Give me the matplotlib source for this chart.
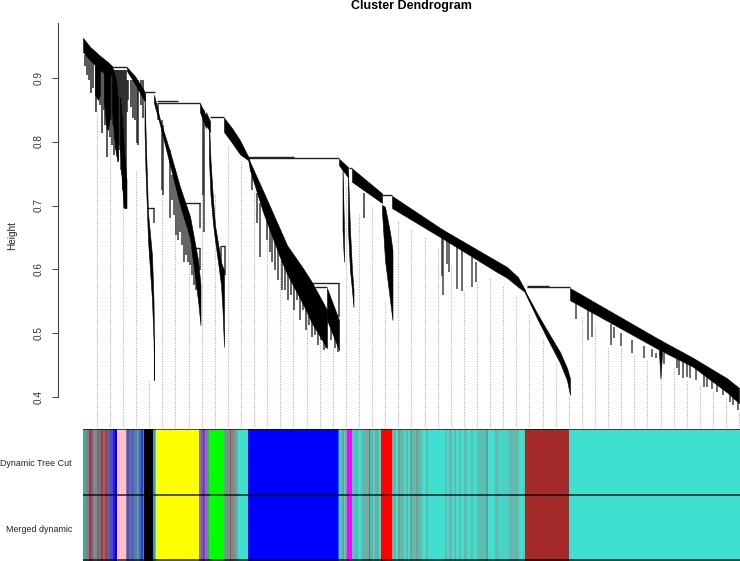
import matplotlib
matplotlib.use('Agg')
import matplotlib.pyplot as plt

plt.rcParams['font.family'] = ['Liberation Sans', 'DejaVu Sans']

# dendrogram branches: leaf position, upper and lower edge in height units
branch_a = ([83, 90, 100, 108, 112], [.962, .948, .934, .924, .918], [.940, .927, .912, .902, .905])
branch_a1 = ([95, 98, 100], [.940, .934, .930], [.873, .865, .873])
branch_a2 = ([104, 106, 108, 110], [.924, .921, .918, .915], [.865, .826, .818, .841])
branch_a3 = ([112, 114, 116, 118], [.918, .908, .896, .865], [.849, .810, .779, .771])
branch_a4 = ([120, 122, 124, 126.5], [.870, .834, .787, .740], [.790, .732, .696, .696])
branch_b = ([127, 135, 145], [.916, .902, .877], [.910, .890, .862])
branch_c = ([144.5, 145.5, 148, 152, 153.5, 154.2], [.877, .818, .688, .622, .552, .459], [.818, .755, .646, .552, .490, .427])
branch_d = ([154, 160, 170, 180, 190, 198, 200.5], [.873, .834, .784, .729, .683, .615, .576], [.860, .826, .763, .701, .649, .552, .513])
branch_e = ([200, 206], [.860, .840], [.846, .821])
branch_f = ([206, 210], [.846, .832], [.826, .815])
branch_g = ([209, 210.5, 213, 215, 218, 221, 222.5, 224], [.830, .771, .709, .669, .641, .611, .605, .599], [.771, .716, .672, .646, .612, .576, .537, .479])
branch_h = ([224, 232, 240, 248], [.837, .821, .802, .777], [.815, .798, .780, .771])
branch_i = ([248, 250, 263, 280, 287, 303, 312, 327], [.777, .768, .723, .663, .638, .602, .580, .537], [.773, .755, .690, .619, .593, .546, .516, .477])
branch_j = ([327, 339], [.571, .521], [.521, .474])
branch_k = ([339, 348], [.773, .760], [.763, .744])
branch_l = ([342.5, 344], [.763, .662], [.662, .612])
branch_m = ([348, 350, 352, 353.5], [.751, .662, .599, .568], [.662, .599, .568, .541])
branch_n = ([352, 382], [.758, .719], [.737, .704])
branch_o = ([382, 385, 390, 392.5], [.701, .698, .658, .630], [.690, .615, .552, .521])
branch_p = ([392, 442, 497, 507, 518, 525], [.715, .663, .613, .604, .588, .568], [.696, .649, .596, .587, .573, .565])
branch_q = ([524.5, 537, 547, 560, 567, 570], [.568, .532, .505, .471, .446, .430], [.565, .524, .493, .454, .427, .404])
branch_r = ([570, 660, 693, 727, 739], [.571, .490, .462, .430, .415], [.552, .474, .448, .408, .391])
branch_s = ([659, 660.5, 662], [.490, .490, .486], [.470, .429, .470])
branches = [branch_a, branch_a1, branch_a2, branch_a3, branch_a4, branch_b, branch_c, branch_d, branch_e, branch_f, branch_g,
            branch_h, branch_i, branch_j, branch_k, branch_l, branch_m, branch_n, branch_o, branch_p, branch_q, branch_r, branch_s]

# horizontal merges
merge_height = [.917, .877, .864, .860, .838, .774, .776, .579, .573, .758, .716, .573, .574, .696, .704, .633, .637]
merge_start = [110, 145, 157, 158, 210, 248, 248, 312, 315, 349, 382, 527, 527, 147, 185, 195, 221]
merge_end = [127, 155, 178, 200, 224, 339, 294, 339, 327, 352, 392, 570, 549, 154, 200, 200, 225]

# hanging leaves, left block
left_x = [85, 87, 89, 91, 93, 96, 98, 100, 102, 104, 105, 107, 108, 110, 111, 112, 113, 114, 115, 116,
          117, 118, 119, 120, 121, 122, 123, 124, 125, 126, 127, 128, 131, 133, 135, 137, 138, 141, 143]
left_top = [.935, .935, .935, .935, .935, .935, .919, .919, .919, .919, .919, .919, .919, .919, .912, .912, .912, .912, .912, .912,
            .912, .912, .912, .912, .912, .912, .912, .912, .912, .912, .896, .896, .896, .896, .896, .896, .896, .896, .896]
left_bot = [.918, .904, .896, .876, .883, .846, .873, .857, .813, .849, .826, .776, .818, .807, .834, .794, .826, .779, .802, .787,
            .818, .768, .794, .787, .755, .748, .724, .696, .716, .696, .846, .865, .854, .837, .834, .798, .794, .857, .837]

# hanging leaves, middle part
mid_x = [154, 158, 162, 163, 170, 172, 174, 176, 178, 180, 182, 184, 186, 188, 190, 192, 194, 196,
         200, 200, 185, 203, 204, 221, 225, 252, 257, 260, 264, 267, 270, 272, 275, 278, 282, 285, 288, 291, 294,
         297, 300, 303, 306, 309, 312, 315, 318, 321, 324, 326, 331, 335, 338, 339, 364]
mid_top = [.696, .860, .834, .826, .787, .748, .755, .732, .724, .709, .701, .693, .677, .662, .654, .638, .623, .607,
           .704, .633, .704, .841, .849, .637, .637, .748, .719, .704, .685, .677, .669, .662, .646, .638, .623, .615, .607, .599, .591,
           .584, .576, .568, .560, .552, .544, .537, .529, .521, .513, .505, .513, .505, .498, .579, .720]
mid_bot = [.673, .834, .724, .716, .680, .709, .685, .654, .646, .658, .638, .612, .623, .612, .607, .591, .576, .568,
           .665, .599, .693, .716, .658, .591, .591, .724, .673, .619, .685, .646, .627, .612, .599, .584, .568, .568, .552, .560, .537,
           .552, .521, .537, .505, .513, .494, .498, .482, .490, .474, .477, .490, .477, .471, .526, .680]

# hanging leaves, right part
right_x = [442, 443, 447, 449, 457, 462, 472, 476, 576, 588, 592, 611, 614, 621, 632, 644, 652, 656, 664,
           677, 679, 683, 687, 690, 696, 704, 707, 712, 717, 723, 730, 733, 738]
right_top = [.663, .662, .654, .652, .640, .632, .620, .612, .560, .545, .540, .515, .510, .500, .490, .480, .475, .470, .470,
             .460, .458, .455, .452, .450, .445, .438, .436, .430, .425, .418, .410, .405, .398]
right_bot = [.590, .560, .608, .596, .570, .566, .572, .580, .523, .490, .494, .482, .493, .480, .469, .462, .463, .462, .452,
             .446, .435, .430, .432, .430, .427, .416, .416, .413, .408, .404, .393, .388, .380]

# dotted guide lines under the tree
guide_x = [96.7, 109.8, 122.9, 136, 149.1, 162.3, 175.4, 188.5, 201.6, 214.7, 227.8, 240.9, 254, 267.1, 280.3, 293.4, 306.5,
           319.6, 332.7, 345.8, 358.9, 372, 385.1, 398.3, 411.4, 424.5, 437.6, 450.7, 463.8, 476.9, 490, 503.1, 516.3,
           529.4, 542.5, 555.6, 568.7, 581.8, 594.9, 608, 621.1, 634.3, 647.4, 660.5, 673.6, 686.7, 699.8, 712.9, 726, 739.1]
guide_top = [.844, .810, .755, .755, .427, .724, .688, .630, .802, .719, .794, .771, .724, .673, .615, .579, .537,
             .510, .479, .732, .688, .698, .552, .677, .663, .651, .633, .607, .568, .580, .587, .576, .560,
             .532, .493, .454, .404, .526, .513, .477, .479, .466, .459, .427, .446, .427, .419, .412, .401, .377]

yticks = [0.4, 0.5, 0.6, 0.7, 0.8, 0.9]
row_labels = ['Dynamic Tree Cut', 'Merged dynamic']

# colour strip
turq = '#40e0d0'
gt = '#64b8ac'
gd = '#70a098'
bar_edges = [83, 86, 89, 91, 93, 97, 99, 101, 103, 105, 107, 109, 111, 113, 115, 117, 126, 127, 129, 131, 133, 135, 137, 139, 141, 143,
             144, 153, 155, 156, 199, 201, 203, 205, 207, 209, 224, 227, 230, 231, 235, 238, 248, 338, 339, 342, 344, 345, 347, 352,
             355, 358, 361, 364, 369, 370, 373, 375, 379, 381, 392, 396, 398, 400, 404, 406, 408, 410, 412, 416, 418, 422, 426, 428,
             445, 447, 449, 452, 454, 456, 459, 461, 464, 467, 471, 473, 477, 486, 488, 495, 498, 509, 519, 523, 525, 569, 740]
bar_colors = ['#4aa89c', '#708a84', '#d01a50', '#706a70', '#7c8a88', '#5a7a80', '#8a6a70', '#c03040', '#6a7a80', '#d02848',
              '#606880', '#4060c0', '#5a40c8', '#2020e8', '#0000ff', '#ffc0cb', '#8878a0', '#4a50c0', '#6a6ab0', '#5060b0',
              '#6868a8', '#2098c8', '#808890', '#5060c0', '#2040e0', '#3a90a8',
              '#000000', '#30a0a8', '#60c8d0', '#ffff00', '#808878', '#7a50c8', '#a020f0', '#7a80a0', '#609090', '#00ff00',
              '#6a9a90', '#808a88', '#a05050', '#808a88', '#60b0a8', turq, '#0000ff', '#2060e0', '#50c8b8', '#7a9a90', turq, '#5ab0a8', '#ff00ff',
              '#40d0c0', '#50c0b0', turq, gt, '#6ab0a8', '#6a7a78', '#60b8ac', '#40d8c8', '#6ab0a4', turq, '#ff0000',
              gt, turq, gd, gt, turq, gt, turq, gd, gt, gd, gt, turq, gt,
              turq, gt, turq, gt, turq, gt, turq, gt, turq, gt, turq, gt, turq, '#58c0b0', '#60a098', turq, gt, '#48d4c4', gt, turq, '#50d0c0',
              '#a52a2a', turq]

W, H = 740, 561
fig = plt.figure(figsize=(W / 100, H / 100), dpi=100)

# tree
ax = fig.add_axes([58 / W, (H - 428) / H, (W - 58) / W, 405 / H])
ax.set_xlim(58, 740)
ax.set_ylim(0.3523, 0.9852)
ax.vlines(guide_x, 0.3523, guide_top, color='#b0b0b0', lw=0.8, linestyles=(0, (1, 1.3)), zorder=1)
for bx, btop, bbot in branches:
    ax.fill_between(bx, btop, bbot, color='black', lw=0.4, zorder=3)
ax.hlines(merge_height, merge_start, merge_end, color='#222222', lw=1.0, zorder=2)
ax.vlines(left_x, left_top, left_bot, color='#222222', lw=1.2, alpha=0.9, zorder=2)
ax.vlines(mid_x, mid_top, mid_bot, color='#222222', lw=1.1, alpha=0.9, zorder=2)
ax.vlines(right_x, right_top, right_bot, color='#333333', lw=1.2, alpha=0.85, zorder=2)
for side in ['top', 'right', 'bottom']:
    ax.spines[side].set_visible(False)
ax.spines['left'].set_bounds(0.4, 0.9852)
ax.spines['left'].set_color('#444444')
ax.spines['left'].set_linewidth(0.8)
ax.set_xticks([])
ax.set_yticks(yticks)
ax.set_yticklabels(['%.1f' % t for t in yticks], rotation=90, va='center', fontsize=7.2, color='#333333')
ax.tick_params(axis='y', length=4.5, width=0.7, color='#444444', pad=6)
ax.patch.set_alpha(0)

fig.text(12 / W, 1 - 235 / H, 'Height', rotation=90, ha='center', va='center', fontsize=7.2, color='#222222')
fig.text(411 / W, 1 - 6 / H, 'Cluster Dendrogram', ha='center', va='center', fontsize=9, fontweight='bold')

# colour rows
ax2 = fig.add_axes([83 / W, 0, (W - 83) / W, 132 / H])
widths = [b - a for a, b in zip(bar_edges[:-1], bar_edges[1:])]
for row in [0.5, 1.5]:
    ax2.barh([row] * len(widths), widths, left=bar_edges[:-1], height=1, color=bar_colors, lw=0)
ax2.set_xlim(83, 740)
ax2.set_ylim(0, 2)
ax2.hlines([2, 1, 0.01], 83, 740, color='black', lw=1.1, alpha=0.85)
for side in ax2.spines:
    ax2.spines[side].set_visible(False)
ax2.set_xticks([])
ax2.set_yticks([1.5, 0.5])
ax2.set_yticklabels(row_labels, fontsize=6.4, color='#222222')
ax2.tick_params(axis='y', length=0, pad=8)

fig.savefig('out.png', dpi=100)
